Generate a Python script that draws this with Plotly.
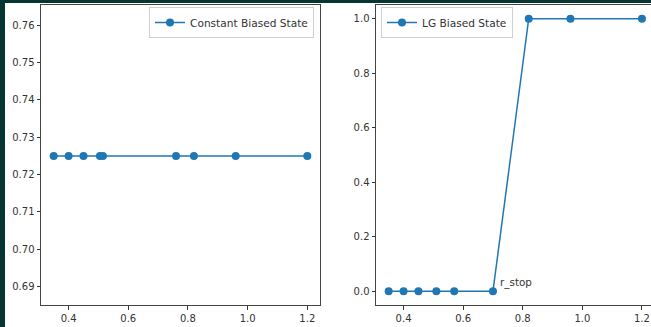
import plotly.graph_objects as go

# Data
const_x = [0.35, 0.40, 0.45, 0.505, 0.515, 0.76, 0.82, 0.96, 1.20]
const_y = [0.725, 0.725, 0.725, 0.725, 0.725, 0.725, 0.725, 0.725, 0.725]
lg_x = [0.35, 0.40, 0.45, 0.51, 0.57, 0.70, 0.82, 0.96, 1.20]
lg_y = [0.0, 0.0, 0.0, 0.0, 0.0, 0.0, 1.0, 1.0, 1.0]
left_yticks = [0.69, 0.70, 0.71, 0.72, 0.73, 0.74, 0.75, 0.76]
right_yticks = [0.0, 0.2, 0.4, 0.6, 0.8, 1.0]
xticks = [0.4, 0.6, 0.8, 1.0, 1.2]
annot_label = "r_stop"
annot_x, annot_y = 0.70, 0.0

BLUE = "#1f77b4"
DARK = "#063532"
W, H = 651, 327
ML, MT, MB, MR = 41, 5, 22, 0
PW = W - ML - MR
PH = H - MT - MB

fig = go.Figure()
fig.add_trace(go.Scatter(x=const_x, y=const_y, mode="lines+markers",
                         name="Constant Biased State",
                         line=dict(color=BLUE, width=1.5),
                         marker=dict(color=BLUE, size=8),
                         xaxis="x", yaxis="y", legend="legend"))
fig.add_trace(go.Scatter(x=lg_x, y=lg_y, mode="lines+markers",
                         name="LG Biased State",
                         line=dict(color=BLUE, width=1.5),
                         marker=dict(color=BLUE, size=8),
                         xaxis="x2", yaxis="y2", legend="legend2"))

axis_common = dict(showgrid=False, zeroline=False, ticks="outside", ticklen=3.5,
                   tickwidth=0.8, tickcolor="#333", linecolor="#444", linewidth=1,
                   showline=True, tickfont=dict(family="DejaVu Sans", size=10, color="#333"))

d1 = (320 - ML) / PW
d2 = (376 - ML) / PW
leg_font = dict(family="DejaVu Sans", size=10.6, color="#333")

fig.update_layout(
    width=W, height=H,
    margin=dict(l=ML, r=MR, t=MT, b=MB),
    paper_bgcolor=DARK, plot_bgcolor="white",
    showlegend=True,
    font=dict(family="DejaVu Sans", size=10, color="#333"),
    xaxis=dict(domain=[0, d1], range=[0.3075, 1.2425], tickvals=xticks,
               tickformat=".1f", mirror=True, anchor="y", **axis_common),
    yaxis=dict(domain=[0, 1], range=[0.6851, 0.7654], tickvals=left_yticks,
               tickformat=".2f", mirror=True, anchor="x", **axis_common),
    xaxis2=dict(domain=[d2, 1], range=[0.3075, 0.3075 + (W - 376) / 298.0],
                tickvals=xticks, tickformat=".1f", mirror=True, anchor="y2",
                **axis_common),
    yaxis2=dict(domain=[0, 1], range=[-0.05, 1.05], tickvals=right_yticks,
                tickformat=".1f", mirror=False, anchor="x2", **axis_common),
    legend=dict(x=(314 - ML) / PW, y=1 - (7 - MT) / PH, xanchor="right", yanchor="top",
                bgcolor="white", bordercolor="#d0d0d0", borderwidth=1,
                font=leg_font, itemwidth=30, tracegroupgap=0),
    legend2=dict(x=(381 - ML) / PW, y=1 - (7 - MT) / PH, xanchor="left", yanchor="top",
                 bgcolor="white", bordercolor="#d0d0d0", borderwidth=1,
                 font=leg_font, itemwidth=30, tracegroupgap=0, visible=True),
    shapes=[dict(type="rect", xref="paper", yref="paper", layer="below",
                 x0=(5 - ML) / PW, x1=1.0, y0=-MB / PH, y1=1 + (MT - 3) / PH,
                 fillcolor="white", line=dict(width=0))],
    annotations=[dict(x=annot_x, y=annot_y, xref="x2", yref="y2", text=annot_label,
                      showarrow=False, xanchor="left", yanchor="bottom",
                      xshift=5, yshift=0,
                      font=dict(family="DejaVu Sans", size=10.4, color="#333"))],
)

fig.write_html("out.html", config={"displayModeBar": False},
               post_script="document.body.style.margin='0px';document.body.style.padding='0px';document.body.style.overflow='hidden';")
